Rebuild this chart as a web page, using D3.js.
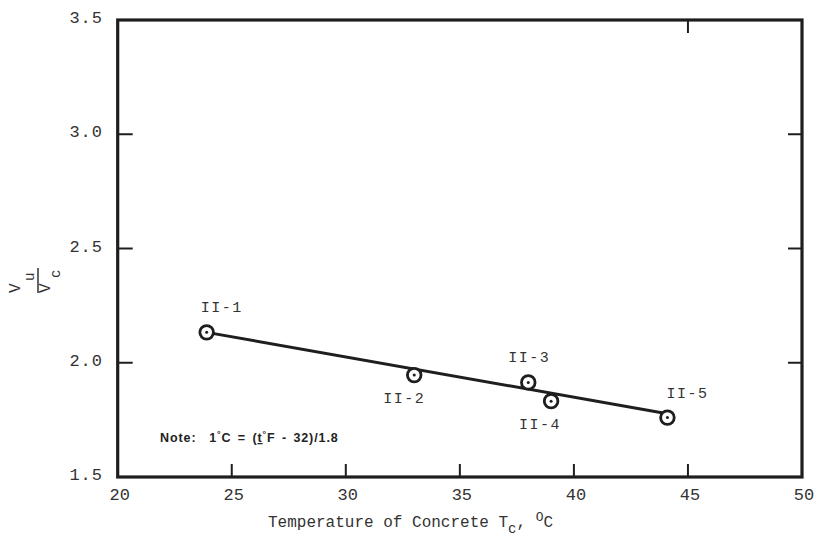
<!DOCTYPE html>
<html>
<head>
<meta charset="utf-8">
<script src="https://cdn.jsdelivr.net/npm/d3@7"></script>
<style>
  html, body { margin: 0; padding: 0; background: #ffffff; }
  svg { display: block; }
</style>
</head>
<body>
<svg id="chart" width="817" height="539"></svg>
<script>
// ---- data ----
const specimens = ["II-1", "II-2", "II-3", "II-4", "II-5"];
const tempC = [23.9, 33.0, 38.0, 39.0, 44.1];
const ratioVuVc = [2.133, 1.946, 1.914, 1.832, 1.760];
const fitX = [23.9, 44.1];
const fitY = [2.133, 1.777];
const xTicks = [20, 25, 30, 35, 40, 45, 50];
const yTicks = [1.5, 2.0, 2.5, 3.0, 3.5];
const xInnerTicks = [25, 30, 35, 40, 45];
const yInnerTicks = [2.0, 2.5, 3.0];
const topTicks = [45];
const rightTicks = [2.0, 2.5, 3.0];
// label placement: side of the point and horizontal shift (layout)
const labelSide = ["above", "below", "above", "below", "above"];
const labelShift = [15, -10, 1, -11, 20];

// ---- layout ----
const svg = d3.select("#chart");
const ink = "#1e1e1e";
const x = d3.scaleLinear().domain([20, 50]).range([117.7, 802]);
const y = d3.scaleLinear().domain([1.5, 3.5]).range([477, 20]);
const mono = "'Liberation Mono', 'DejaVu Sans Mono', monospace";

// frame
svg.append("rect")
  .attr("x", x(20)).attr("y", y(3.5))
  .attr("width", x(50) - x(20)).attr("height", y(1.5) - y(3.5))
  .attr("fill", "none").attr("stroke", ink).attr("stroke-width", 3.2);

// inward ticks
const tickLen = 13;
svg.append("g").selectAll("line").data(xInnerTicks).join("line")
  .attr("x1", d => x(d)).attr("x2", d => x(d))
  .attr("y1", y(1.5)).attr("y2", y(1.5) - tickLen)
  .attr("stroke", ink).attr("stroke-width", 2);
svg.append("g").selectAll("line").data(topTicks).join("line")
  .attr("x1", d => x(d)).attr("x2", d => x(d))
  .attr("y1", y(3.5)).attr("y2", y(3.5) + tickLen)
  .attr("stroke", ink).attr("stroke-width", 2);
svg.append("g").selectAll("line").data(yInnerTicks).join("line")
  .attr("x1", x(20)).attr("x2", x(20) + 15)
  .attr("y1", d => y(d)).attr("y2", d => y(d))
  .attr("stroke", ink).attr("stroke-width", 2);
svg.append("g").selectAll("line").data(rightTicks).join("line")
  .attr("x1", x(50)).attr("x2", x(50) - 14)
  .attr("y1", d => y(d)).attr("y2", d => y(d))
  .attr("stroke", ink).attr("stroke-width", 2);

// tick labels
svg.append("g").selectAll("text").data(xTicks).join("text")
  .attr("x", d => x(d) + 2).attr("y", y(1.5) + 23)
  .attr("text-anchor", "middle")
  .attr("font-family", mono).attr("font-size", 17).attr("fill", "#333")
  .text(d => d);
svg.append("g").selectAll("text").data(yTicks).join("text")
  .attr("x", 103).attr("y", d => y(d) + 3)
  .attr("text-anchor", "end")
  .attr("font-family", mono).attr("font-size", 17).attr("fill", "#333")
  .attr("letter-spacing", 1)
  .text(d => d3.format(".1f")(d));

// x axis title
const xt = svg.append("text")
  .attr("x", 268).attr("y", 527)
  .attr("font-family", mono).attr("font-size", 16).attr("fill", "#333");
xt.append("tspan").text("Temperature of Concrete T");
xt.append("tspan").attr("dy", 6).attr("font-size", 14).text("c");
xt.append("tspan").attr("dy", -6).text(", ");
xt.append("tspan").attr("dy", -6).attr("font-size", 13).text("O");
xt.append("tspan").attr("dy", 6).text("C");

// y axis title (rotated fraction Vu / Vc)
const yl = svg.append("g").attr("transform", "translate(38,280) rotate(-90)")
  .attr("font-family", mono).attr("fill", "#333");
yl.append("text").attr("x", -13).attr("y", -18).attr("font-size", 16).text("V");
yl.append("text").attr("x", -1).attr("y", -4).attr("font-size", 14).text("u");
yl.append("line").attr("x1", -13).attr("x2", 12).attr("y1", 0).attr("y2", 0)
  .attr("stroke", "#333").attr("stroke-width", 1.5);
yl.append("text").attr("x", -13).attr("y", 12).attr("font-size", 16).text("V");
yl.append("text").attr("x", 2).attr("y", 22).attr("font-size", 14).text("c");

// fit line
svg.append("line")
  .attr("x1", x(fitX[0])).attr("y1", y(fitY[0]))
  .attr("x2", x(fitX[1])).attr("y2", y(fitY[1]))
  .attr("stroke", ink).attr("stroke-width", 3);

// points
const pts = specimens.map((s, i) => ({ s, t: tempC[i], r: ratioVuVc[i], side: labelSide[i], dx: labelShift[i] }));
const pg = svg.append("g");
pg.selectAll("circle.o").data(pts).join("circle").attr("class", "o")
  .attr("cx", d => x(d.t)).attr("cy", d => y(d.r)).attr("r", 6.8)
  .attr("fill", "#fff").attr("stroke", ink).attr("stroke-width", 2.8);
pg.selectAll("circle.c").data(pts).join("circle").attr("class", "c")
  .attr("cx", d => x(d.t)).attr("cy", d => y(d.r)).attr("r", 1.5)
  .attr("fill", ink);
pg.selectAll("text").data(pts).join("text")
  .attr("x", d => x(d.t) + d.dx).attr("y", d => y(d.r) + (d.side === "above" ? -20 : 28))
  .attr("text-anchor", "middle")
  .attr("font-family", mono).attr("font-size", 15).attr("letter-spacing", 1.5)
  .attr("fill", "#333")
  .text(d => d.s);

// note
const note = svg.append("text")
  .attr("x", 160).attr("y", 442)
  .attr("font-family", "'Liberation Sans', Arial, sans-serif")
  .attr("font-weight", "bold").attr("font-size", 12.5).attr("fill", "#222")
  .attr("letter-spacing", 0.9).attr("word-spacing", 2)
  .attr("xml:space", "preserve");
note.append("tspan").text("Note:  1");
note.append("tspan").attr("dy", -5).attr("font-size", 9).text("°");
note.append("tspan").attr("dy", 5).text("C = (");
note.append("tspan").attr("text-decoration", "underline").text("t");
note.append("tspan").attr("dy", -5).attr("font-size", 9).text("°");
note.append("tspan").attr("dy", 5).text("F - 32)/1.8");
</script>
</body>
</html>
